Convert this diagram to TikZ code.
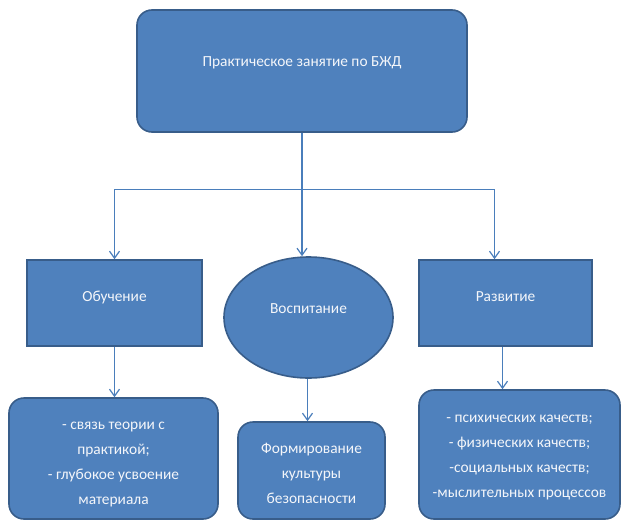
\documentclass[tikz,border=0pt]{standalone}
\usepackage{fontspec}
\setmainfont{Carlito}
\usetikzlibrary{arrows.meta,shapes.geometric,calc}
\definecolor{boxfill}{HTML}{4F81BD}
\definecolor{boxline}{HTML}{385D8A}
\definecolor{conn}{HTML}{4A7EBB}
\definecolor{txtc}{HTML}{F4F6FA}
\begin{document}
\begin{tikzpicture}[x=1pt,y=-1pt,
  shapebase/.style={fill=boxfill,draw=boxline,line width=1.6pt,inner sep=0pt},
  roundbox/.style={shapebase,rectangle,rounded corners=15pt},
  sqbox/.style={shapebase,rectangle},
  ovalbox/.style={shapebase,ellipse},
  txt/.style={text=txtc,font=\fontsize{15.4}{25}\selectfont,align=center,inner sep=0pt},
  arr/.style={draw=conn,line width=1.2pt,-{Straight Barb[length=7pt,width=10pt]}},
  ln/.style={draw=conn,line width=1.2pt}]
\fill[white] (0,0) rectangle (623,522);
\useasboundingbox (0,0) rectangle (623,522);

\node[roundbox,minimum width=330pt,minimum height=122pt,
  label={[txt,yshift=8pt]center:Практическое занятие по БЖД}] (top) at (302,71) {};

\node[sqbox,minimum width=175pt,minimum height=86pt,
  label={[txt,yshift=6pt]center:Обучение}] (ob) at (114.5,303) {};
\node[ovalbox,minimum width=169pt,minimum height=121pt,
  label={[txt,yshift=9pt]center:Воспитание}] (vos) at (308.5,317.5) {};
\node[sqbox,minimum width=173pt,minimum height=86pt,
  label={[txt,yshift=6pt]center:Развитие}] (raz) at (505.5,303) {};

\node[roundbox,minimum width=209pt,minimum height=121pt,
  label={[txt,yshift=-6pt]center:- связь теории с\\практикой;\\- глубокое усвоение\\материала}] (lob) at (113.5,458.5) {};
\node[roundbox,minimum width=147pt,minimum height=97pt,
  label={[txt,yshift=-3pt]center:Формирование\\культуры\\безопасности}] (lvos) at (311.5,470.5) {};
\node[roundbox,minimum width=201pt,minimum height=129pt,
  label={[txt,yshift=-3pt]center:- психических качеств;\\- физических качеств;\\-социальных качеств;\\-мыслительных процессов}] (lraz) at (519.5,454.5) {};

\coordinate (j) at ($(top.south)+(0,57)$);
\draw[ln] (top.south) -- (j);
\draw[arr] (j) -- (top.south |- vos.north);
\draw[arr] (j) -| (ob.north);
\draw[arr] (j) -| ([xshift=-11pt]raz.north);

\draw[arr] (ob.south) -- (ob.south |- lob.north);
\draw[arr] ([xshift=-1pt]vos.south) -- ([xshift=-1pt]vos.south |- lvos.north);
\draw[arr] ([xshift=-3pt]raz.south) -- ([xshift=-3pt]raz.south |- lraz.north);
\end{tikzpicture}
\end{document}
